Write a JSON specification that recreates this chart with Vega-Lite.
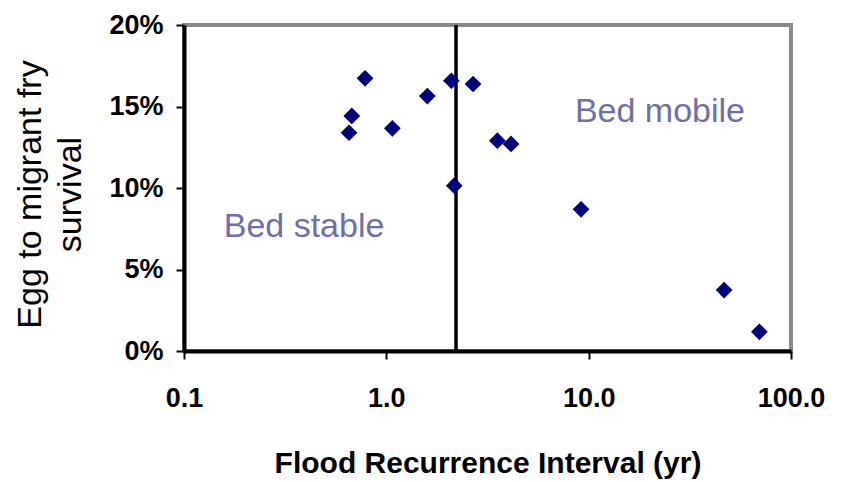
{
  "$schema": "https://vega.github.io/schema/vega-lite/v6.json",
  "width": 607,
  "height": 326,
  "autosize": {"type": "none"},
  "padding": {"left": 184, "top": 25, "right": 52, "bottom": 131},
  "background": "white",
  "config": {
    "view": {"stroke": "#8a8a8a", "strokeWidth": 4},
    "font": "Liberation Sans",
    "axis": {"grid": false, "zindex": 1}
  },
  "datasets": {
    "survival": [
      {"interval": 0.654, "survival": 0.1339},
      {"interval": 0.675, "survival": 0.1442},
      {"interval": 0.785, "survival": 0.1673},
      {"interval": 1.071, "survival": 0.1366},
      {"interval": 1.595, "survival": 0.1564},
      {"interval": 2.096, "survival": 0.1658},
      {"interval": 2.166, "survival": 0.1014},
      {"interval": 2.683, "survival": 0.1638},
      {"interval": 3.538, "survival": 0.129},
      {"interval": 4.134, "survival": 0.127},
      {"interval": 9.17, "survival": 0.0869},
      {"interval": 46.7, "survival": 0.0374},
      {"interval": 69.8, "survival": 0.0118}
    ],
    "threshold": [{"interval": 2.21}],
    "zones": [
      {"label": "Bed stable", "interval": 0.392, "survival": 0.0698},
      {"label": "Bed mobile", "interval": 22.5, "survival": 0.1403}
    ]
  },
  "layer": [
    {
      "data": {"name": "threshold"},
      "mark": {"type": "rule", "color": "black", "strokeWidth": 3.5},
      "encoding": {
        "x": {"field": "interval", "type": "quantitative", "scale": {"type": "log", "domain": [0.1, 100], "nice": false}}
      }
    },
    {
      "data": {"name": "survival"},
      "mark": {"type": "point", "shape": "diamond", "filled": true, "color": "#000080", "size": 280, "opacity": 1},
      "encoding": {
        "x": {
          "field": "interval",
          "type": "quantitative",
          "scale": {"type": "log", "domain": [0.1, 100], "nice": false},
          "axis": {
            "values": [0.1, 1, 10, 100],
            "format": ".1f",
            "title": "Flood Recurrence Interval (yr)",
            "domainColor": "black",
            "domainWidth": 4,
            "tickColor": "black",
            "tickWidth": 2,
            "tickSize": 8,
            "labelFont": "Liberation Sans",
            "labelFontSize": 27,
            "labelFontWeight": "bold",
            "labelColor": "black",
            "labelPadding": 26,
            "labelFlush": false,
            "titleFont": "Liberation Sans",
            "titleFontSize": 30,
            "titleFontWeight": "bold",
            "titleColor": "black",
            "titleBaseline": "alphabetic",
            "titleY": 121
          }
        },
        "y": {
          "field": "survival",
          "type": "quantitative",
          "scale": {"domain": [0, 0.2], "nice": false},
          "axis": {
            "values": [0, 0.05, 0.1, 0.15, 0.2],
            "format": ".0%",
            "title": ["Egg to migrant fry", "survival"],
            "domainColor": "black",
            "domainWidth": 4,
            "tickColor": "black",
            "tickWidth": 2,
            "tickSize": 8,
            "labelFont": "Liberation Sans",
            "labelFontSize": 27,
            "labelFontWeight": "bold",
            "labelColor": "black",
            "labelPadding": 13,
            "labelFlush": false,
            "titleFont": "Liberation Sans",
            "titleFontSize": 34,
            "titleFontWeight": "normal",
            "titleColor": "black",
            "titleAngle": -90,
            "titleAlign": "center",
            "titleBaseline": "alphabetic",
            "titleLineHeight": 40,
            "titleX": -144,
            "titleY": 169
          }
        }
      }
    },
    {
      "data": {"name": "zones"},
      "mark": {"type": "text", "font": "Liberation Sans", "fontSize": 34, "color": "#6f6fa8", "align": "center", "baseline": "alphabetic"},
      "encoding": {
        "x": {"field": "interval", "type": "quantitative", "scale": {"type": "log", "domain": [0.1, 100], "nice": false}},
        "y": {"field": "survival", "type": "quantitative", "scale": {"domain": [0, 0.2], "nice": false}},
        "text": {"field": "label"}
      }
    }
  ]
}
